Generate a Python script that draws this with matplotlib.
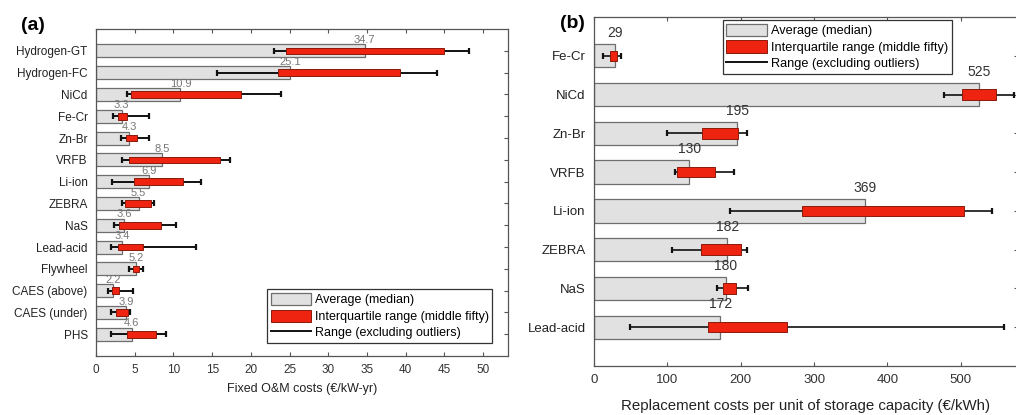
import matplotlib
matplotlib.use("Agg")
import matplotlib.pyplot as plt
from matplotlib.patches import Patch
from matplotlib.lines import Line2D

plt.rcParams["font.family"] = ["Liberation Sans", "DejaVu Sans"]

# ---- (a) Fixed O&M costs (EUR/kW-yr) ----
tech_a = ["Hydrogen-GT", "Hydrogen-FC", "NiCd", "Fe-Cr", "Zn-Br", "VRFB", "Li-ion",
          "ZEBRA", "NaS", "Lead-acid", "Flywheel", "CAES (above)", "CAES (under)", "PHS"]
median_a = [34.7, 25.1, 10.9, 3.3, 4.3, 8.5, 6.9, 5.5, 3.6, 3.4, 5.2, 2.2, 3.9, 4.6]
q1_a = [24.5, 23.5, 4.5, 2.9, 3.9, 4.3, 4.9, 3.7, 3.0, 2.9, 4.8, 2.0, 2.6, 4.0]
q3_a = [45.0, 39.2, 18.7, 4.0, 5.3, 16.0, 11.2, 7.1, 8.4, 6.1, 5.6, 3.0, 4.1, 7.7]
min_a = [23.0, 15.6, 4.0, 2.2, 3.2, 3.4, 2.0, 3.3, 2.3, 1.9, 4.3, 1.5, 1.9, 1.9]
max_a = [48.1, 44.0, 23.9, 6.8, 6.8, 17.3, 13.5, 7.5, 10.3, 12.9, 6.1, 4.8, 4.4, 9.1]
xticks_a = [0, 5, 10, 15, 20, 25, 30, 35, 40, 45, 50]

# ---- (b) Replacement costs per unit of storage capacity (EUR/kWh) ----
tech_b = ["Fe-Cr", "NiCd", "Zn-Br", "VRFB", "Li-ion", "ZEBRA", "NaS", "Lead-acid"]
median_b = [29, 525, 195, 130, 369, 182, 180, 172]
q1_b = [22, 502, 147, 113, 284, 146, 176, 156]
q3_b = [31, 548, 196, 165, 505, 200, 194, 263]
min_b = [12, 477, 100, 110, 186, 106, 168, 49]
max_b = [37, 573, 209, 191, 543, 209, 210, 559]
xticks_b = [0, 100, 200, 300, 400, 500]

GREY = "#e1e1e1"
GREY_EDGE = "#6e6e6e"
RED = "#ee2410"
RED_EDGE = "#8a1a0c"
SPINE = "#555555"

fig = plt.figure(figsize=(10.16, 4.15), dpi=100)
ax_a = fig.add_axes([0.0945, 0.142, 0.4055, 0.788])
ax_b = fig.add_axes([0.5846, 0.118, 0.4174, 0.841])


def draw_panel(ax, techs, med, q1, q3, lo, hi, xticks, xlim, xlabel, tick_fs,
               xlabel_fs, xlabel_pad, label_fs, label_color, red_h, lab_off, lw):
    pos = list(range(len(techs)))
    ax.barh(pos, med, height=0.6, color=GREY, edgecolor=GREY_EDGE,
            linewidth=0.9, zorder=2)
    ax.hlines(pos, lo, hi, color="#111111", linewidth=lw, zorder=3)
    ax.plot(lo, pos, linestyle="none", marker="|", markersize=5,
            markeredgewidth=1.6, color="#111111", zorder=3)
    ax.plot(hi, pos, linestyle="none", marker="|", markersize=5,
            markeredgewidth=1.6, color="#111111", zorder=3)
    widths = [b - a for a, b in zip(q1, q3)]
    ax.barh(pos, widths, left=q1, height=red_h, color=RED,
            edgecolor=RED_EDGE, linewidth=0.7, zorder=4)
    for p, m in zip(pos, med):
        ax.annotate(f"{m:g}", xy=(m, p - 0.3), xytext=(0, lab_off),
                    textcoords="offset points", ha="center", va="bottom",
                    fontsize=label_fs, color=label_color, zorder=5)
    ax.set_yticks(pos)
    ax.set_yticklabels(techs, fontsize=tick_fs, color="#222222")
    ax.set_ylim(len(techs), -1)
    ax.set_xlim(*xlim)
    ax.set_xticks(xticks)
    ax.set_xticklabels([str(t) for t in xticks], fontsize=tick_fs, color="#333333")
    ax.set_xlabel(xlabel, fontsize=xlabel_fs, color="#222222", labelpad=xlabel_pad)
    ax.tick_params(direction="in", top=True, right=True, length=3,
                   width=0.8, color=SPINE, pad=6)
    for s in ax.spines.values():
        s.set_color(SPINE)
        s.set_linewidth(0.9)


draw_panel(ax_a, tech_a, median_a, q1_a, q3_a, min_a, max_a, xticks_a, (0, 53.2),
           "Fixed O&M costs (€/kW-yr)", 8.5, 9, 5, 8, "#777777", 0.3, -0.5, 1.4)
draw_panel(ax_b, tech_b, median_b, q1_b, q3_b, min_b, max_b, xticks_b, (0, 578),
           "Replacement costs per unit of storage capacity (€/kWh)", 9.5, 10.8, 9,
           10, "#333333", 0.27, 3, 1.2)

handles = [Patch(facecolor=GREY, edgecolor=GREY_EDGE, linewidth=0.9),
           Patch(facecolor=RED, edgecolor=RED_EDGE, linewidth=0.7),
           Line2D([], [], color="#111111", linewidth=1.4)]
names = ["Average (median)", "Interquartile range (middle fifty)",
         "Range (excluding outliers)"]

for ax, loc, anchor, fs in [(ax_a, "lower right", (0.962, 0.04), 9),
                            (ax_b, "upper right", (0.845, 0.992), 9.2)]:
    leg = ax.legend(handles, names, loc=loc, bbox_to_anchor=anchor,
                    borderaxespad=0, fontsize=fs, fancybox=False, framealpha=1,
                    edgecolor="#333333", handlelength=3.2, handleheight=1.1,
                    handletextpad=0.3, labelspacing=0.25, borderpad=0.3)
    leg.get_frame().set_linewidth(0.9)
    leg.set_zorder(10)

fig.text(0.021, 0.958, "(a)", fontsize=14, fontweight="bold", va="top")
fig.text(0.551, 0.963, "(b)", fontsize=14, fontweight="bold", va="top")

fig.savefig("out.png", dpi=100)
